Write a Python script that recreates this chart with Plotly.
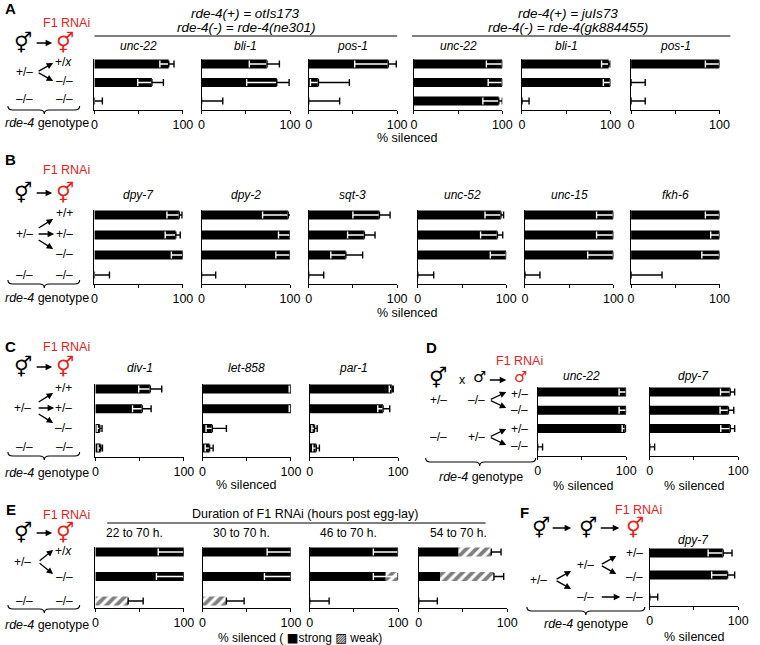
import plotly.graph_objects as go

W, H = 760, 645
RED = "#e2231a"
FONT = "Liberation Sans, Arial, sans-serif"
SYM = "DejaVu Sans"

# ------------------------
# Data: % silenced, rows listed top to bottom
# hi = error beyond the bar end, lo = error back into the bar
# ------------------------
# A, rde-4(+) = otIs173 ; rows +/x, -/-, -/- (from -/-)
a1_genes = ["unc-22", "bli-1", "pos-1"]
a1_val = [[84, 65, 0], [74, 85, 0], [90, 11, 0]]
a1_hi = [[6, 13, 9], [14, 14, 24], [9, 35, 35]]
a1_lo = [[10, 16, 0], [20, 34, 0], [38, 9, 0]]

# A, rde-4(+) = juIs73
a2_genes = ["unc-22", "bli-1", "pos-1"]
a2_val = [[100, 100, 96], [98, 100, 0], [100, 0, 0]]
a2_hi = [[0, 0, 4], [2, 0, 8], [0, 16, 16]]
a2_lo = [[18, 16, 18], [8, 8, 0], [16, 0, 0]]

# B ; rows +/+, +/-, -/-, -/- (from -/-)
b_genes = ["dpy-7", "dpy-2", "sqt-3", "unc-52", "unc-15", "fkh-6"]
b_val = [[96, 92, 100, 0], [98, 100, 100, 0], [80, 63, 42, 0],
         [94, 90, 100, 0], [100, 100, 100, 0], [100, 100, 100, 0]]
b_hi = [[3, 5, 0, 17], [3, 0, 0, 16], [12, 12, 19, 17],
        [3, 6, 0, 18], [0, 0, 0, 17], [0, 0, 0, 35]]
b_lo = [[14, 12, 13, 0], [29, 13, 16, 0], [30, 19, 17, 0],
        [18, 19, 18, 0], [19, 19, 29, 0], [16, 10, 20, 0]]

# C ; rows +/+, +/-, -/-, -/- (from -/-)
c_genes = ["div-1", "let-858", "par-1"]
c_val = [[62, 53, 5, 6], [100, 100, 11, 8], [93, 83, 5.5, 7.5]]
c_hi = [[13, 10, 2.5, 2], [0, 0, 16, 4], [1.5, 7.5, 3, 3.5]]
c_lo = [[13, 11, 3, 3], [2, 2, 7, 5], [3, 6, 3, 4]]

# D ; male F1 rows +/-, -/-, +/-, -/-
d_genes = ["unc-22", "dpy-7"]
d_val = [[100, 100, 99, 0], [91, 89, 91, 0]]
d_hi = [[0, 0, 1, 5.5], [5, 6, 5, 5.5]]
d_lo = [[8, 8, 3.5, 0], [11, 9.5, 10.7, 0]]

# E ; duration of F1 RNAi, strong + weak silencing
e_windows = ["22 to 70 h.", "30 to 70 h.", "46 to 70 h.", "54 to 70 h."]
e_strong = [[100, 100, 0], [100, 100, 0], [100, 86, 0], [45, 24, 0]]
e_weak = [[0, 0, 37], [0, 0, 27], [0, 14, 0], [37, 61, 0]]
e_hi = [[0, 0, 17], [0, 0, 20], [0, 0, 22], [11, 11, 21]]
e_lo = [[29, 31, 0], [27, 30, 0], [28, 28, 0], [0, 0, 0]]

# F
f_genes = ["dpy-7"]
f_val = [[83, 88, 0]]
f_hi = [[10, 8, 9]]
f_lo = [[17, 18, 0]]


def px(x):
    return x / W


def py(y):
    return 1 - y / H


fig = go.Figure()
layout = {}
annots = []
shapes = []
count = [0]


def txt(x, y, s, size=12.5, color="black", family=FONT, **kw):
    annots.append(dict(x=px(x), y=py(y), xref="paper", yref="paper", text=s,
                       showarrow=False, xanchor="center", yanchor="middle",
                       font=dict(size=size, color=color, family=family), **kw))


def arrow(x0, y0, x1, y1):
    annots.append(dict(x=px(x1), y=py(y1), xref="paper", yref="paper", text="",
                       showarrow=True, ax=x0 - x1, ay=y0 - y1, arrowhead=2,
                       arrowsize=1, arrowwidth=1.3, arrowcolor="black"))


def hline(x0, x1, y):
    shapes.append(dict(type="line", xref="paper", yref="paper", x0=px(x0), x1=px(x1),
                       y0=py(y), y1=py(y), line=dict(color="black", width=1.2)))


def brace(x0, x1, xm, yt):
    yl, tip, r = yt + 4, yt + 8, 5
    pts = (f"M {px(x0)},{py(yt)} Q {px(x0)},{py(yl)} {px(x0 + r)},{py(yl)} "
           f"L {px(xm - r)},{py(yl)} Q {px(xm)},{py(yl)} {px(xm)},{py(tip)} "
           f"Q {px(xm)},{py(yl)} {px(xm + r)},{py(yl)} "
           f"L {px(x1 - r)},{py(yl)} Q {px(x1)},{py(yl)} {px(x1)},{py(yt)}")
    shapes.append(dict(type="path", xref="paper", yref="paper", path=pts,
                       line=dict(color="black", width=1.1)))


def subplot(left, row1, sp, axis_y, title, title_y, strong, hi, lo, weak=None,
            italic=True, tdx=0):
    count[0] += 1
    sfx = "" if count[0] == 1 else str(count[0])
    rows = list(range(len(strong)))
    bw = 9 / sp
    fig.add_trace(go.Bar(x=strong, y=rows, orientation="h", width=bw,
                         marker=dict(color="black", line_width=0),
                         xaxis="x" + sfx, yaxis="y" + sfx))
    total = list(strong)
    if weak is not None:
        fig.add_trace(go.Bar(x=weak, y=rows, base=strong, orientation="h", width=bw,
                             marker=dict(color="white", line_width=0,
                                         pattern=dict(shape="/", fgcolor="black",
                                                      bgcolor="white", size=7, solidity=0.55)),
                             xaxis="x" + sfx, yaxis="y" + sfx))
        total = [s + w for s, w in zip(strong, weak)]
    wr = [i for i in rows if lo[i] > 0]
    if wr:
        fig.add_trace(go.Scatter(x=[total[i] for i in wr], y=wr, mode="markers",
                                 marker=dict(size=1, color="rgba(0,0,0,0)"),
                                 error_x=dict(type="data", symmetric=False,
                                              array=[0] * len(wr),
                                              arrayminus=[lo[i] for i in wr],
                                              color="white", thickness=1.4, width=3.5),
                                 cliponaxis=False, xaxis="x" + sfx, yaxis="y" + sfx))
    fig.add_trace(go.Scatter(x=total, y=rows, mode="markers",
                             marker=dict(size=1, color="rgba(0,0,0,0)"),
                             error_x=dict(type="data", symmetric=False, array=hi,
                                          arrayminus=[0] * len(rows),
                                          color="black", thickness=1.4, width=3.5),
                             cliponaxis=False, xaxis="x" + sfx, yaxis="y" + sfx))
    layout["xaxis" + sfx] = dict(
        domain=[px(left), px(left + 90)], anchor="y" + sfx, range=[0, 100],
        showline=True, linecolor="black", linewidth=1.3, ticks="outside",
        ticklen=3, tickwidth=1.3, tickcolor="black", tickvals=[0, 50, 100],
        ticktext=["0", "", "100"], tickfont=dict(size=12.5, color="black", family=FONT),
        showgrid=False, zeroline=False, fixedrange=True)
    layout["yaxis" + sfx] = dict(
        domain=[py(axis_y), py(row1 - 5)], anchor="x" + sfx,
        range=[(axis_y - row1) / sp, -5 / sp], showline=True, linecolor="black",
        linewidth=1.3, ticks="", showticklabels=False, showgrid=False,
        zeroline=False, fixedrange=True)
    t = f"<i>{title}</i>" if italic else title
    txt(left + 45 + tdx, title_y, t, size=12)


def herm_row(y, xs=(20, 63)):
    txt(xs[0], y, "⚥", size=20, family=SYM)
    arrow(33, y, 50, y)
    txt(xs[1], y, "⚥", size=20, color=RED, family=SYM)


# ------------------------
# Panel A
# ------------------------
for i, g in enumerate(a1_genes):
    subplot([93, 202, 311][i], 64, 18.5, 110, g, 46, a1_val[i], a1_hi[i], a1_lo[i])
for i, g in enumerate(a2_genes):
    subplot([418, 528, 639][i], 64, 18.5, 110, g, 46, a2_val[i], a2_hi[i], a2_lo[i])
txt(8, 9, "<b>A</b>", size=15)
txt(247, 14, "<i>rde-4(+) = otIs173</i>", size=13.5)
txt(247, 28, "<i>rde-4(-) = rde-4(ne301)</i>", size=13.5)
txt(575, 14, "<i>rde-4(+) = juIs73</i>", size=13.5)
txt(575, 28, "<i>rde-4(-) = rde-4(gk884455)</i>", size=13.5)
hline(93, 401, 36)
hline(416, 740, 36)
txt(65, 23, "F1 RNAi", size=12.5, color=RED)
herm_row(43)
txt(62, 62, "+/<i>x</i>", size=12)
txt(22, 72, "+/–", size=12)
txt(63, 81, "–/–", size=12)
txt(22, 99, "–/–", size=12)
txt(63, 99, "–/–", size=12)
arrow(35, 72, 51, 63)
arrow(35, 72, 51, 81)
brace(5, 78, 42, 106)
txt(45, 123, "<i>rde-4</i> genotype", size=12.5)
txt(411, 138, "% silenced", size=12.5)

# ------------------------
# Panel B
# ------------------------
for i, g in enumerate(b_genes):
    subplot([93, 202, 311, 422, 531, 639][i], 215, 20, 284, g, 195,
            b_val[i], b_hi[i], b_lo[i])
txt(8, 159, "<b>B</b>", size=15)
txt(65, 170, "F1 RNAi", size=12.5, color=RED)
herm_row(193)
txt(63, 213, "+/+", size=12)
txt(63, 234, "+/–", size=12)
txt(63, 254, "–/–", size=12)
txt(22, 234, "+/–", size=12)
txt(22, 275, "–/–", size=12)
txt(63, 275, "–/–", size=12)
arrow(35, 229, 51, 219)
arrow(35, 234, 52, 234)
arrow(35, 239, 51, 249)
brace(5, 78, 42, 280)
txt(45, 298, "<i>rde-4</i> genotype", size=12.5)
txt(411, 313, "% silenced", size=12.5)

# ------------------------
# Panel C
# ------------------------
for i, g in enumerate(c_genes):
    subplot([94, 203, 312][i], 389, 19.7, 457, g, 368, c_val[i], c_hi[i], c_lo[i])
txt(8, 346, "<b>C</b>", size=15)
txt(65, 347, "F1 RNAi", size=12.5, color=RED)
herm_row(367)
txt(62, 388, "+/+", size=12)
txt(62, 408, "+/–", size=12)
txt(62, 428, "–/–", size=12)
txt(20, 408, "+/–", size=12)
txt(22, 447, "–/–", size=12)
txt(63, 447, "–/–", size=12)
arrow(35, 403, 51, 393)
arrow(35, 408, 52, 408)
arrow(35, 413, 51, 423)
brace(5, 78, 42, 452)
txt(45, 473, "<i>rde-4</i> genotype", size=12.5)
txt(247, 485, "% silenced", size=12.5)

# ------------------------
# Panel D
# ------------------------
for i, g in enumerate(d_genes):
    subplot([544, 658][i], 392, 18.3, 456, g, 376, d_val[i], d_hi[i], d_lo[i])
txt(436, 347, "<b>D</b>", size=15)
txt(525, 361, "F1 RNAi", size=12.5, color=RED)
txt(443, 378, "⚥", size=20, family=SYM)
txt(467, 380, "x", size=12.5)
txt(485, 377, "♂", size=15, family=SYM)
arrow(494, 380, 512, 380)
txt(526, 377, "♂", size=15, color=RED, family=SYM)
txt(443, 400, "+/–", size=12)
txt(482, 400, "–/–", size=12)
txt(525, 394, "+/–", size=12)
txt(525, 410, "–/–", size=12)
arrow(495, 400, 512, 392)
arrow(495, 400, 512, 408)
txt(443, 437, "–/–", size=12)
txt(482, 437, "+/–", size=12)
txt(525, 429, "+/–", size=12)
txt(525, 446, "–/–", size=12)
arrow(495, 437, 512, 429)
arrow(495, 437, 512, 445)
brace(430, 542, 485, 458)
txt(486, 477, "<i>rde-4</i> genotype", size=12.5)
txt(590, 486, "% silenced", size=12.5)
txt(703, 486, "% silenced", size=12.5)

# ------------------------
# Panel E
# ------------------------
for i, w in enumerate(e_windows):
    subplot([94, 203, 312, 423][i], 552, 24.5, 608, w, 533, e_strong[i], e_hi[i],
            e_lo[i], weak=e_weak[i], italic=False, tdx=-5)
txt(8, 509, "<b>E</b>", size=15)
txt(307, 514, "Duration of F1 RNAi (hours post egg-lay)", size=12.5)
hline(106, 491, 523)
txt(65, 515, "F1 RNAi", size=12.5, color=RED)
herm_row(533)
txt(62, 551, "+/<i>x</i>", size=12)
txt(20, 562, "+/–", size=12)
txt(63, 577, "–/–", size=12)
txt(22, 601, "–/–", size=12)
txt(63, 601, "–/–", size=12)
arrow(36, 562, 51, 550)
arrow(36, 562, 51, 574)
brace(5, 78, 42, 605)
txt(45, 625, "<i>rde-4</i> genotype", size=12.5)
txt(302, 637.5, "% silenced ( <span style='font-family:DejaVu Sans;font-size:12.5px'>■</span>strong "
    "<span style='font-family:DejaVu Sans;font-size:12.5px'>▨</span> weak)", size=12)

# ------------------------
# Panel F
# ------------------------
subplot(658, 553, 22, 606, f_genes[0], 540, f_val[0], f_hi[0], f_lo[0])
txt(531, 512, "<b>F</b>", size=15)
txt(647, 510, "F1 RNAi", size=12.5, color=RED)
txt(547, 528, "⚥", size=20, family=SYM)
arrow(558, 528, 578, 528)
txt(595, 528, "⚥", size=20, family=SYM)
arrow(607, 528, 627, 528)
txt(643, 528, "⚥", size=20, color=RED, family=SYM)
txt(545, 580, "+/–", size=12)
arrow(562, 580, 578, 571)
arrow(562, 580, 578, 589)
txt(593, 565, "+/–", size=12)
arrow(608, 565, 624, 556)
arrow(608, 565, 624, 574)
txt(642, 553, "+/–", size=12)
txt(642, 577, "–/–", size=12)
txt(593, 597, "–/–", size=12)
arrow(608, 597, 628, 597)
txt(642, 597, "–/–", size=12)
brace(533, 653, 593, 607)
txt(593, 624, "<i>rde-4</i> genotype", size=12.5)
txt(703, 637, "% silenced", size=12.5)

fig.update_layout(
    width=W, height=H, margin=dict(l=0, r=0, t=0, b=0),
    paper_bgcolor="white", plot_bgcolor="white", showlegend=False,
    barmode="overlay", font=dict(family=FONT, color="black"),
    annotations=annots, shapes=shapes, **layout)

# drop the default 8px page margin so the figure fills the window
fig.write_html("out.html", config={"displayModeBar": False},
               post_script="document.body.style.margin='0';")
